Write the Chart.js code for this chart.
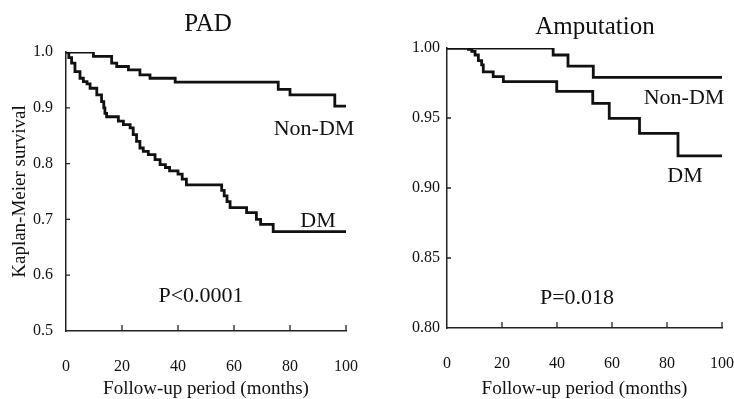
<!DOCTYPE html>
<html>
<head>
<meta charset="utf-8">
<title>Kaplan-Meier</title>
<script src="https://cdn.jsdelivr.net/npm/chart.js"></script>
<style>
  body { margin: 0; background: #fff; }
  .wrap { position: relative; width: 734px; height: 399px; }
  canvas { position: absolute; top: 0; }
  #padChart { left: 0; }
  #ampChart { left: 367px; }
</style>
</head>
<body>
<div class="wrap">
  <canvas id="padChart" width="367" height="399"></canvas>
  <canvas id="ampChart" width="367" height="399"></canvas>
</div>
<script>
// PAD - months at each step and survival after it
const padNonDmMonths = [0, 9.8, 16.3, 18.1, 22.3, 26.4, 30, 39, 75.8, 80, 96, 100];
const padNonDmSurv   = [1, 0.992, 0.98, 0.974, 0.968, 0.959, 0.953, 0.946, 0.933, 0.923, 0.903, 0.903];
const padDmMonths = [0, 1, 2, 3.2, 5, 6.2, 7.5, 8.6, 11, 12.7, 13.5, 13.9, 14.5, 18.7, 20.5, 22.9, 24, 25.2, 26.4,
  27.6, 29.4, 31.8, 33.6, 35.5, 37, 40, 41.5, 43, 55.6, 56.5, 57.5, 58.6, 64.5, 68, 69.5, 74, 100];
const padDmSurv = [1, 0.99, 0.98, 0.965, 0.953, 0.947, 0.943, 0.935, 0.923, 0.911, 0.9, 0.89, 0.884, 0.876, 0.87,
  0.864, 0.852, 0.84, 0.828, 0.822, 0.816, 0.807, 0.798, 0.793, 0.787, 0.781, 0.772, 0.762, 0.752, 0.742, 0.732,
  0.721, 0.712, 0.7, 0.691, 0.678, 0.678];

// Amputation
const ampNonDmMonths = [0, 38.6, 44, 53.2, 100];
const ampNonDmSurv   = [1, 0.995, 0.987, 0.979, 0.979];
const ampDmMonths = [0, 7.8, 9, 10.2, 11.4, 12.6, 13.2, 16.8, 20.5, 39.9, 53, 59, 70, 84, 100];
const ampDmSurv   = [1, 0.999, 0.9976, 0.995, 0.991, 0.988, 0.983, 0.9795, 0.976, 0.969, 0.9605, 0.9498, 0.939, 0.923, 0.923];

const monthTicks = [0, 20, 40, 60, 80, 100];

const SERIF = '"Liberation Serif", "Times New Roman", serif';

function pairs(xs, ys) {
  return xs.map((x, i) => ({ x: x, y: ys[i] }));
}

// small tick marks drawn inside the plot, plus text notes
const insideTicks = {
  id: 'insideTicks',
  afterDatasetsDraw(chart) {
    const ctx = chart.ctx;
    const xs = chart.scales.x, ys = chart.scales.y;
    ctx.save();
    ctx.strokeStyle = '#222';
    ctx.lineWidth = 1.3;
    ctx.beginPath();
    xs.ticks.forEach(t => {
      if (t.value === xs.min) return;
      const px = xs.getPixelForValue(t.value);
      ctx.moveTo(px, ys.bottom);
      ctx.lineTo(px, ys.bottom - 6);
    });
    ys.ticks.forEach(t => {
      if (t.value === ys.min || t.value === ys.max) return;
      const py = ys.getPixelForValue(t.value);
      ctx.moveTo(xs.left, py);
      ctx.lineTo(xs.left + 4, py);
    });
    ctx.stroke();
    ctx.restore();
  },
  afterDraw(chart) {
    const notes = chart.options.plugins.notes || [];
    const ctx = chart.ctx;
    ctx.save();
    ctx.fillStyle = '#111';
    ctx.textAlign = 'center';
    ctx.textBaseline = 'middle';
    notes.forEach(n => {
      ctx.font = n.size + 'px ' + SERIF;
      ctx.fillText(n.text, n.x, n.y);
    });
    ctx.restore();
  }
};

function makeChart(id, cfg) {
  return new Chart(document.getElementById(id), {
    type: 'line',
    data: {
      datasets: cfg.series.map(s => ({
        label: s.label,
        data: s.data,
        stepped: 'before',
        borderColor: '#111',
        borderWidth: 2.8,
        pointRadius: 0,
        fill: false
      }))
    },
    options: {
      responsive: false,
      animation: false,
      layout: { padding: { top: cfg.top, right: cfg.right, left: 0, bottom: 0 } },
      plugins: {
        legend: { display: false },
        tooltip: { enabled: false },
        notes: cfg.notes
      },
      scales: {
        x: {
          type: 'linear',
          min: 0, max: 100,
          afterBuildTicks: sc => { sc.ticks = monthTicks.map(v => ({ value: v })); },
          afterFit: sc => { sc.height = cfg.xHeight; },
          // invisible long tick marks push the labels down without widening the side padding
          grid: { display: true, drawOnChartArea: false, drawTicks: true, tickLength: 26, tickColor: 'rgba(0,0,0,0)' },
          border: { display: true, color: '#222', width: 1.5 },
          ticks: { color: '#111', font: { family: SERIF, size: 16 }, padding: 0, maxRotation: 0 },
          title: {
            display: true, text: 'Follow-up period (months)', color: '#111',
            font: { family: SERIF, size: 19, lineHeight: 1 }, padding: 0
          }
        },
        y: {
          min: cfg.yMin, max: 1,
          afterBuildTicks: sc => { sc.ticks = cfg.yTicks.map(v => ({ value: v })); },
          afterFit: sc => { sc.width = cfg.yWidth; },
          grid: { display: true, drawOnChartArea: false, drawTicks: true, tickLength: cfg.yPad, tickColor: 'rgba(0,0,0,0)' },
          border: { display: true, color: '#222', width: 1.5 },
          ticks: {
            color: '#111', font: { family: SERIF, size: 16 }, padding: 0,
            callback: v => v.toFixed(cfg.digits)
          },
          title: {
            display: cfg.yTitle !== '', text: cfg.yTitle, color: '#111',
            font: { family: SERIF, size: 19, lineHeight: 1 }, padding: { top: 11, bottom: 0 }
          }
        }
      }
    },
    plugins: [insideTicks]
  });
}

makeChart('padChart', {
  series: [
    { label: 'Non-DM', data: pairs(padNonDmMonths, padNonDmSurv) },
    { label: 'DM', data: pairs(padDmMonths, padDmSurv) }
  ],
  yMin: 0.5, yTicks: [0.5, 0.6, 0.7, 0.8, 0.9, 1.0], digits: 1,
  yTitle: 'Kaplan-Meier survival',
  top: 52, right: 21, xHeight: 68, yWidth: 66, yPad: 13,
  notes: [
    { text: 'PAD', x: 208, y: 24, size: 25 },
    { text: 'Non-DM', x: 314, y: 129, size: 22 },
    { text: 'DM', x: 318, y: 221, size: 22 },
    { text: 'P<0.0001', x: 201, y: 296, size: 22 }
  ]
});

makeChart('ampChart', {
  series: [
    { label: 'Non-DM', data: pairs(ampNonDmMonths, ampNonDmSurv) },
    { label: 'DM', data: pairs(ampDmMonths, ampDmSurv) }
  ],
  yMin: 0.8, yTicks: [0.8, 0.85, 0.9, 0.95, 1.0], digits: 2,
  yTitle: '',
  top: 48, right: 12, xHeight: 71, yWidth: 80, yPad: 7,
  notes: [
    { text: 'Amputation', x: 228, y: 27, size: 25 },
    { text: 'Non-DM', x: 317, y: 98, size: 22 },
    { text: 'DM', x: 318, y: 176, size: 22 },
    { text: 'P=0.018', x: 210, y: 298, size: 22 }
  ]
});
</script>
</body>
</html>
